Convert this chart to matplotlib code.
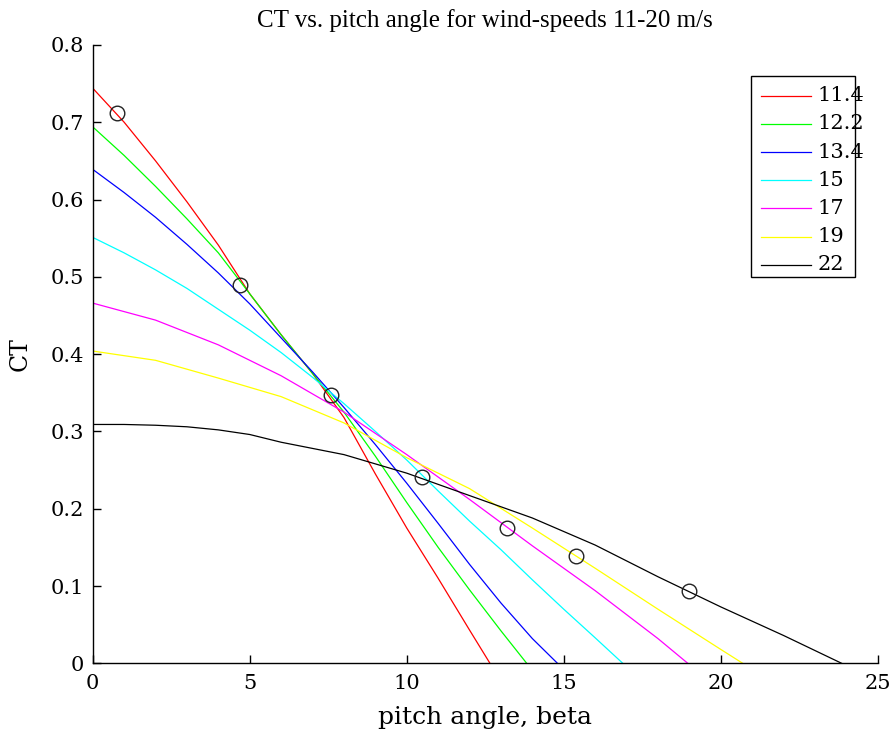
import matplotlib
matplotlib.use("Agg")
import matplotlib.pyplot as plt
from matplotlib.patches import Rectangle
from matplotlib.lines import Line2D

plt.rcParams['font.family'] = ['DejaVu Serif']

labels = ["11.4", "12.2", "13.4", "15", "17", "19", "22"]
colors = ["#ff0000", "#00ff00", "#0000ff", "#00ffff", "#ff00ff", "#ffff00", "#000000"]

x_114 = [0, 1, 2, 3, 4, 5, 6, 7, 8, 9, 10, 11, 12, 12.65]
y_114 = [0.744, 0.700, 0.650, 0.597, 0.541, 0.478, 0.425, 0.375, 0.318, 0.245, 0.175, 0.110, 0.043, 0.0]

x_122 = [0, 1, 2, 3, 4, 5, 6, 7, 8, 9, 10, 11, 12, 13, 13.82]
y_122 = [0.694, 0.657, 0.617, 0.575, 0.531, 0.478, 0.425, 0.375, 0.325, 0.268, 0.208, 0.150, 0.095, 0.042, 0.0]

x_134 = [0, 1, 2, 3, 4, 5, 6, 7, 8, 9, 10, 11, 12, 13, 14, 14.8]
y_134 = [0.639, 0.609, 0.577, 0.542, 0.505, 0.465, 0.421, 0.377, 0.331, 0.283, 0.233, 0.181, 0.128, 0.078, 0.032, 0.0]

x_15 = [0, 1, 2, 3, 4, 5, 6, 7, 8, 9, 10, 11, 12, 13, 14, 15, 16, 16.88]
y_15 = [0.551, 0.531, 0.509, 0.485, 0.458, 0.431, 0.402, 0.370, 0.336, 0.300, 0.263, 0.223, 0.184, 0.147, 0.108, 0.070, 0.033, 0.0]

x_17 = [0, 2, 4, 6, 8, 10, 12, 14, 16, 18, 18.95]
y_17 = [0.466, 0.444, 0.412, 0.372, 0.325, 0.270, 0.212, 0.152, 0.094, 0.032, 0.0]

x_19 = [0, 2, 4, 6, 8, 10, 12, 14, 16, 18, 20, 20.7]
y_19 = [0.404, 0.392, 0.369, 0.345, 0.311, 0.266, 0.226, 0.175, 0.123, 0.070, 0.018, 0.0]

x_22 = [0, 1, 2, 3, 4, 5, 6, 8, 10, 12, 14, 16, 18, 20, 22, 23.85]
y_22 = [0.309, 0.309, 0.308, 0.306, 0.302, 0.296, 0.286, 0.270, 0.246, 0.217, 0.188, 0.153, 0.112, 0.073, 0.036, 0.0]

marker_x = [0.76, 4.68, 7.58, 10.5, 13.2, 15.4, 19.0]
marker_y = [0.712, 0.489, 0.347, 0.241, 0.175, 0.139, 0.094]

series = [(x_114, y_114), (x_122, y_122), (x_134, y_134), (x_15, y_15),
          (x_17, y_17), (x_19, y_19), (x_22, y_22)]

fig = plt.figure(figsize=(8.92, 7.37), dpi=100)
ax = fig.add_axes([0.104, 0.100, 0.880, 0.839])

for (xs, ys), c, lab in zip(series, colors, labels):
    ax.plot(xs, ys, color=c, lw=0.9, label=lab)

ax.plot(marker_x, marker_y, linestyle='none', marker='o', markersize=10.5,
        markerfacecolor='none', markeredgecolor='#222222', markeredgewidth=1.0)

ax.set_xlim(0, 25)
ax.set_ylim(0, 0.8)
ax.set_xticks([0, 5, 10, 15, 20, 25])
ax.set_yticks([0, 0.1, 0.2, 0.3, 0.4, 0.5, 0.6, 0.7, 0.8])
ax.set_yticklabels(["0", "0.1", "0.2", "0.3", "0.4", "0.5", "0.6", "0.7", "0.8"])
ax.spines['top'].set_visible(False)
ax.spines['right'].set_visible(False)
for s in ['left', 'bottom']:
    ax.spines[s].set_linewidth(1.0)
ax.tick_params(direction='in', length=6, width=1.0, labelsize=15, colors='black')
ax.tick_params(axis='x', pad=8)
ax.tick_params(axis='y', pad=6)

ax.set_title("CT vs. pitch angle for wind-speeds 11-20 m/s",
             fontsize=18, family=['Liberation Serif'], pad=13)
ax.set_xlabel("pitch angle, beta", fontsize=18, labelpad=9)
ax.set_ylabel("CT", fontsize=17, labelpad=14)

# legend box drawn in axes coordinates
box_l, box_r, box_b, box_t = 0.838, 0.971, 0.625, 0.950
ax.add_patch(Rectangle((box_l, box_b), box_r - box_l, box_t - box_b,
                       transform=ax.transAxes, facecolor='white',
                       edgecolor='black', lw=1.0, zorder=5, clip_on=False))
first_y, step = 0.918, 0.0456
for i, (lab, c) in enumerate(zip(labels, colors)):
    yy = first_y - step * i
    ax.add_line(Line2D([0.851, 0.915], [yy, yy], transform=ax.transAxes,
                       color=c, lw=0.9, zorder=6, clip_on=False))
    ax.text(0.923, yy, lab, transform=ax.transAxes, fontsize=15,
            va='center', ha='left', zorder=7, clip_on=False)

fig.savefig("out.png", dpi=100)
